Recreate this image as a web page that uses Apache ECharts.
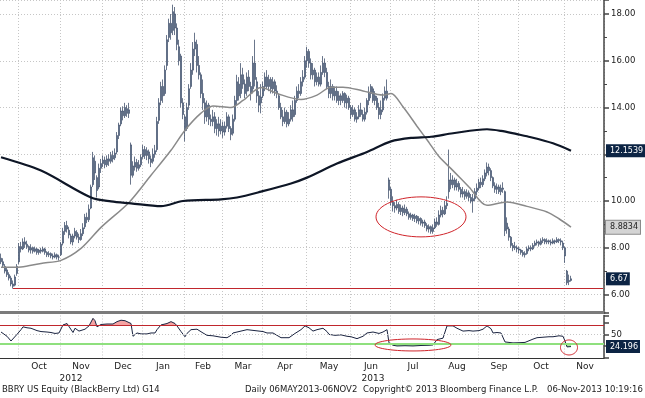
<!DOCTYPE html>
<html>
<head>
<meta charset="utf-8">
<script src="https://cdn.jsdelivr.net/npm/echarts@6.0.0/dist/echarts.min.js"></script>
<style>
html, body { margin: 0; padding: 0; background: #fff; }
#chart { width: 645px; height: 398px; }
</style>
</head>
<body>
<div id="chart"></div>
<script>
// trading calendar (NYSE), Sep 18 2012 .. Nov 29 2013
const firstDay = '2012-09-18'
const lastDay = '2013-11-29'
const holidays = ['2012-10-29', '2012-10-30', '2012-11-22', '2012-12-25', '2013-01-01', '2013-01-21',
  '2013-02-18', '2013-03-29', '2013-05-27', '2013-07-04', '2013-09-02', '2013-11-28']
const monthNames = ['Jan', 'Feb', 'Mar', 'Apr', 'May', 'Jun', 'Jul', 'Aug', 'Sep', 'Oct', 'Nov', 'Dec']

// daily bars [open, close, low, high]
const sep12 = [[7.55,7.40,7.30,7.75],[7.40,7.25,7.15,7.55],[7.20,7.00,6.90,7.30],[7.05,6.85,6.75,7.15],[6.85,6.70,6.60,6.95],
  [6.70,6.45,6.35,6.80],[6.45,6.35,6.25,6.60],[6.40,6.75,6.35,6.85],[6.90,7.20,6.80,7.30]]
const oct12 = [[7.40,8.05,7.30,8.20],[8.05,7.95,7.80,8.25],[7.95,8.25,7.90,8.40],[8.25,8.15,8.00,8.45],[8.15,8.05,7.95,8.30],
  [8.05,7.90,7.80,8.10],[7.90,8.00,7.75,8.15],[8.00,7.85,7.75,8.05],[7.85,7.95,7.80,8.05],[7.95,7.80,7.70,8.00],
  [7.80,7.90,7.70,7.95],[7.90,7.85,7.75,8.00],[7.85,7.95,7.80,8.05],[7.95,7.80,7.70,8.00],[7.80,7.70,7.60,7.85],
  [7.70,7.75,7.60,7.85],[7.75,7.65,7.55,7.80],[7.65,7.60,7.50,7.75],[7.60,7.70,7.55,7.80],[7.70,7.60,7.50,7.75],
  [7.60,7.60,7.45,7.70]]
const nov12 = [[7.70,8.15,7.65,8.25],[8.20,8.70,8.10,8.85],[8.70,8.95,8.55,9.10],[8.95,8.80,8.65,9.15],[8.75,8.55,8.40,8.90],
  [8.50,8.25,8.15,8.60],[8.25,8.50,8.10,8.60],[8.50,8.70,8.40,8.85],[8.65,8.45,8.35,8.75],[8.45,8.35,8.20,8.60],
  [8.35,8.60,8.30,8.80],[8.60,8.85,8.50,9.05],[8.90,9.30,8.80,9.45],[9.30,9.20,9.05,9.50],[9.20,9.65,9.10,9.85],
  [9.70,10.60,9.65,10.70],[10.70,11.85,10.60,12.10],[11.70,11.20,10.90,11.95],[11.00,10.45,10.15,11.10],[10.60,11.40,10.50,11.60],
  [11.40,11.60,11.20,11.80]]
const dec12 = [[11.60,11.75,11.45,11.95],[11.75,11.55,11.40,11.90],[11.55,11.80,11.45,11.95],[11.80,11.70,11.50,12.00],[11.70,11.95,11.60,12.10],
  [11.95,11.80,11.65,12.15],[11.85,12.05,11.75,12.25],[12.10,12.80,12.00,12.95],[12.80,13.25,12.65,13.35],[13.30,13.85,13.20,14.00],
  [13.85,13.65,13.45,14.05],[13.65,14.00,13.55,14.20],[13.95,13.75,13.60,14.10],[13.75,13.90,13.55,14.20],[12.40,11.10,10.70,12.50],
  [11.10,11.50,11.00,11.70],[11.45,11.65,11.30,11.90],[11.65,11.40,11.25,11.80],[11.40,11.55,11.30,11.75],[11.55,11.87,11.45,12.00]]
const jan13 = [[11.90,12.20,11.80,12.40],[12.20,11.95,11.80,12.35],[11.95,12.15,11.75,12.30],[12.10,11.80,11.60,12.20],[11.80,11.65,11.45,11.95],
  [11.70,12.00,11.60,12.25],[12.00,12.15,11.85,12.40],[12.20,13.40,12.10,13.60],[13.45,14.20,13.30,14.40],[14.30,14.90,14.10,15.10],
  [14.90,14.50,14.20,15.20],[14.60,15.60,14.50,15.80],[15.80,16.90,15.60,17.10],[17.00,17.60,16.80,17.80],[17.60,17.20,16.90,18.00],
  [17.30,18.10,17.10,18.40],[18.00,17.40,17.10,18.30],[17.40,16.70,16.45,17.60],[16.60,16.00,15.80,16.90],[16.20,14.20,14.00,16.30],
  [14.20,13.70,13.50,14.40]]
const feb13 = [[13.60,13.00,12.55,13.70],[13.10,14.00,13.00,14.20],[14.10,14.80,13.90,15.00],[14.90,15.60,14.80,15.90],[15.60,16.50,15.40,16.80],
  [16.50,16.80,16.20,17.20],[16.70,15.80,15.50,16.90],[15.80,15.40,15.20,16.20],[15.40,14.60,14.40,15.50],[14.60,14.20,13.90,15.20],
  [14.20,13.60,13.30,14.40],[13.60,14.10,13.40,14.30],[14.10,13.50,13.25,14.20],[13.50,13.40,13.20,13.70],[13.40,13.60,13.20,13.90],
  [13.60,13.10,12.90,13.80],[13.10,13.30,12.80,13.50],[13.30,13.00,12.75,13.60],[13.00,13.20,12.85,13.50]]
const mar13 = [[13.20,12.95,12.70,13.40],[12.95,13.20,12.80,13.40],[13.20,13.60,13.10,13.80],[13.60,13.10,12.95,13.70],[13.10,12.85,12.60,13.20],
  [12.90,13.50,12.80,13.70],[13.50,14.30,13.40,14.50],[14.30,15.10,14.10,15.40],[15.00,14.50,14.30,15.30],[14.60,15.40,14.40,15.90],
  [15.40,15.00,14.80,15.70],[15.00,14.60,14.40,15.20],[14.70,15.30,14.50,15.50],[15.30,14.90,14.70,15.60],[14.90,14.60,14.30,15.10],
  [14.80,15.90,14.60,16.20],[15.90,15.20,14.90,16.90],[15.10,14.50,14.20,15.30],[14.50,14.10,13.80,14.70],[14.20,14.45,13.75,15.00]]
const apr13 = [[14.50,14.90,14.40,15.10],[14.90,15.30,14.70,15.50],[15.30,14.90,14.80,15.60],[14.90,15.20,14.70,15.40],[15.20,14.80,14.60,15.30],
  [14.80,15.10,14.60,15.30],[15.10,14.70,14.50,15.20],[14.70,14.60,14.40,14.95],[14.50,14.00,13.90,14.60],[14.00,13.60,13.50,14.20],
  [13.60,13.40,13.20,13.90],[13.40,13.80,13.30,14.00],[13.80,13.30,13.15,13.90],[13.30,13.50,13.20,13.80],[13.50,13.90,13.40,14.10],
  [13.90,13.60,13.40,14.30],[13.70,14.30,13.60,14.50],[14.30,14.70,14.20,14.90],[14.70,14.60,14.40,15.00],[14.60,15.10,14.50,15.30],
  [15.10,15.30,14.90,15.60],[15.30,16.00,15.20,16.20]]
const may13 = [[16.00,16.40,15.70,16.60],[16.40,15.90,15.70,16.50],[15.90,15.40,15.20,16.10],[15.40,15.60,15.20,15.90],[15.60,15.10,14.90,15.70],
  [15.10,15.30,14.95,15.50],[15.30,15.00,14.90,15.50],[15.00,15.50,14.90,15.80],[15.50,15.90,15.40,16.20],[15.90,15.50,15.30,16.10],
  [15.50,14.90,14.80,15.70],[14.90,14.60,14.40,15.10],[14.60,14.90,14.40,15.20],[14.90,14.50,14.30,15.00],[14.50,14.70,14.30,14.90],
  [14.70,14.30,14.20,14.90],[14.30,14.50,14.10,14.70],[14.50,14.30,14.10,14.60],[14.30,14.60,14.20,14.70],[14.60,14.20,14.00,14.65],
  [14.20,14.40,13.95,14.55],[14.40,14.00,13.90,14.50]]
const jun13 = [[14.00,13.70,13.50,14.10],[13.70,13.90,13.60,14.10],[13.90,13.50,13.40,14.00],[13.50,13.60,13.35,13.80],[13.60,13.90,13.50,14.10],
  [13.90,13.70,13.60,14.20],[13.70,13.50,13.40,13.90],[13.50,13.80,13.40,14.00],[13.80,14.30,13.70,14.40],[14.30,14.60,14.10,14.90],
  [14.60,14.90,14.40,15.00],[14.80,14.30,14.20,14.90],[14.30,14.50,14.10,14.70],[14.40,14.00,13.90,14.50],[14.00,13.70,13.50,14.20],
  [13.70,13.90,13.50,14.30],[13.90,14.40,13.80,14.60],[14.40,14.70,14.30,14.90],[14.70,14.40,14.30,15.20],[10.90,10.46,10.10,11.00]]
const jul13 = [[10.50,9.95,9.80,10.60],[9.95,9.80,9.55,10.20],[9.80,9.70,9.50,9.95],[9.70,9.85,9.60,10.05],[9.85,9.55,9.45,9.95],
  [9.55,9.70,9.40,9.85],[9.70,9.50,9.35,9.80],[9.50,9.65,9.40,9.85],[9.65,9.45,9.35,9.75],[9.45,9.30,9.20,9.55],
  [9.30,9.40,9.20,9.50],[9.40,9.25,9.15,9.45],[9.25,9.35,9.10,9.45],[9.35,9.15,9.05,9.40],[9.15,9.25,9.00,9.35],
  [9.25,9.05,8.95,9.30],[9.05,9.10,8.90,9.20],[9.10,8.95,8.85,9.20],[8.95,8.80,8.70,9.05],[8.80,8.90,8.65,9.00],
  [8.90,8.70,8.60,8.95],[8.70,8.85,8.60,9.00]]
const aug13 = [[8.85,9.10,8.80,9.25],[9.10,9.00,8.90,9.30],[9.00,9.40,8.95,9.60],[9.40,9.60,9.30,9.80],[9.60,9.45,9.30,9.75],
  [9.45,9.80,9.40,10.00],[9.80,9.90,9.65,10.20],[10.40,10.90,10.10,12.20],[10.90,10.70,10.50,11.20],[10.70,10.90,10.55,11.10],
  [10.90,10.60,10.45,11.00],[10.60,10.75,10.45,10.95],[10.75,10.50,10.40,10.85],[10.50,10.30,10.15,10.60],[10.30,10.40,10.15,10.60],
  [10.40,10.20,10.05,10.50],[10.20,10.35,10.10,10.50],[10.35,10.15,10.00,10.45],[10.15,10.00,9.90,10.30],[10.00,10.10,9.50,10.30],
  [10.10,10.40,10.00,10.55],[10.40,10.55,10.25,10.75]]
const sep13 = [[10.55,10.80,10.45,10.95],[10.80,10.70,10.55,11.00],[10.70,10.95,10.60,11.10],[10.95,11.20,10.85,11.35],[11.20,11.45,11.05,11.65],
  [11.45,11.30,11.10,11.60],[11.30,11.00,10.85,11.40],[11.00,10.65,10.55,11.05],[10.65,10.50,10.35,10.80],[10.50,10.60,10.30,10.75],
  [10.60,10.40,10.30,10.70],[10.40,10.55,10.25,10.70],[10.55,10.50,10.35,10.80],[10.40,8.73,8.50,10.45],[9.05,8.80,8.60,9.30],
  [8.80,8.45,8.30,8.90],[8.45,8.10,8.00,8.50],[8.10,8.00,7.85,8.20],[8.00,8.05,7.90,8.25],[8.00,7.95,7.80,8.10]]
const oct13 = [[7.95,7.90,7.75,8.05],[7.90,7.80,7.70,7.95],[7.80,7.70,7.62,7.90],[7.70,7.75,7.58,7.85],[7.75,7.95,7.70,8.05],
  [7.95,8.00,7.85,8.10],[8.00,7.95,7.85,8.10],[7.95,8.10,7.90,8.20],[8.10,8.20,8.05,8.30],[8.20,8.25,8.10,8.35],
  [8.25,8.15,8.05,8.30],[8.15,8.30,8.10,8.40],[8.30,8.35,8.20,8.45],[8.35,8.25,8.15,8.40],[8.25,8.30,8.15,8.40],
  [8.30,8.25,8.15,8.35],[8.25,8.20,8.10,8.35],[8.20,8.30,8.15,8.40],[8.30,8.25,8.15,8.35],[8.25,8.35,8.20,8.45],
  [8.35,8.30,8.20,8.40],[8.30,8.25,8.10,8.40],[8.20,8.00,7.90,8.30]]
const nov13 = [[8.00,7.65,7.35,8.05],[7.00,6.50,6.40,7.05],[6.55,6.60,6.40,6.85],[6.60,6.67,6.55,6.80]]

// moving averages: [day index, value]
const ma50 = [[0,7.16],[10,7.18],[20,7.33],[30,7.46],[40,7.97],[50,8.87],[64,9.94],[75,11.1],[85,12.17],[92,13.03],
  [100,13.76],[106,14.06],[115,14.0],[121,14.3],[130,14.86],[138,14.6],[150,14.34],[158,14.53],[165,14.87],[171,14.87],
  [181,14.71],[191,14.53],[195,14.6],[201,14.03],[208,13.2],[214,12.5],[219,11.9],[226,11.3],[234,10.6],[243,9.82],
  [253,9.96],[263,9.77],[273,9.53],[279,9.24],[285,8.8834]]
const ma200 = [[0,11.87],[20,11.3],[45,10.15],[55,9.98],[65,9.9],[80,9.78],[91,10.0],[110,10.07],[118,10.15],[130,10.4],
  [145,10.75],[153,11.0],[168,11.6],[183,12.1],[195,12.55],[205,12.7],[215,12.75],[226,12.9],[243,13.07],[250,13.0],
  [258,12.86],[263,12.77],[276,12.47],[285,12.1539]]

// RSI(14): [day index, value]
const rsi = [[0,55],[3,46],[5,36],[8,50],[10,60],[11,66],[13,64],[15,63],[18,58],[20,56],[23,55],[25,54],[27,52],[29,53],
  [30,54],[31,70],[33,73],[34,72],[36,54],[37,63],[39,57],[40,56],[42,61],[44,68],[46,84],[47,79],[48,66],[49,70],[50,71],
  [53,72],[56,72],[58,77],[60,80],[62,79],[63,77],[65,73],[66,46],[68,53],[70,51],[73,51],[75,53],[77,53],[78,60],[80,70],
  [83,73],[85,77],[87,73],[88,68],[90,56],[92,45],[93,52],[95,60],[98,61],[101,53],[103,48],[106,47],[110,44],[113,43],
  [115,48],[116,53],[119,56],[123,60],[127,58],[131,56],[133,53],[136,53],[138,48],[140,43],[144,43],[147,52],[150,60],
  [152,68],[154,64],[156,57],[158,60],[161,63],[163,56],[164,50],[167,48],[170,49],[173,46],[175,45],[178,41],[181,46],
  [183,53],[186,55],[189,52],[191,55],[193,60],[194,32],[196,27],[198,25.5],[202,26],[206,25.5],[210,26.5],[214,27],
  [216,27.6],[218,39],[221,42],[223,68],[224,69],[226,68],[228,63],[231,57],[234,58],[236,57],[239,58],[241,61],[243,68],
  [245,62],[246,53],[248,54],[250,53],[252,34],[254,33],[256,32],[259,32.4],[262,33],[263,36],[266,40],[268,43],[271,44],
  [274,45],[276,45],[279,47],[281,46],[282,36],[283,23.5],[284,26],[285,24.196]]

const supportLevel = 6.26
const lastPrice = 6.67
const lastMa50 = 8.8834
const lastMa200 = 12.1539
const lastRsi = 24.196

const footer = [
  ['BBRY US Equity (BlackBerry Ltd) G14', 2],
  ['Daily 06MAY2013-06NOV2', 245],
  ['Copyright\u00a9 2013 Bloomberg Finance L.P.', 363],
  ['06-Nov-2013 10:19:16', 547]
]

const buildDays = () => {
  const out = []
  const d = new Date(firstDay + 'T00:00:00Z')
  const end = new Date(lastDay + 'T00:00:00Z')
  while (d <= end) {
    const s = d.toISOString().slice(0, 10)
    const wd = d.getUTCDay()
    if (wd !== 0 && wd !== 6 && !holidays.includes(s)) out.push(s)
    d.setUTCDate(d.getUTCDate() + 1)
  }
  return out
}
const days = buildDays()
const ohlc = [...sep12, ...oct12, ...nov12, ...dec12, ...jan13, ...feb13, ...mar13, ...apr13,
  ...may13, ...jun13, ...jul13, ...aug13, ...sep13, ...oct13, ...nov13]

const monthStarts = []
days.forEach((d, i) => { if (i > 0 && d.slice(0, 7) !== days[i - 1].slice(0, 7)) monthStarts.push(i) })
const monthStartSet = new Set(monthStarts)
const monthMidSet = new Set(monthStarts.map((s, k) => Math.floor((s + (monthStarts[k + 1] || days.length)) / 2)))
const yearStart = days.findIndex(d => d.startsWith('2013'))
const yearMidSet = new Set([Math.floor(yearStart / 2), Math.floor((yearStart + days.length) / 2)])

const pairs = pts => pts.map(([i, v]) => [days[i], v])

const FONT = 'DejaVu Sans'
const INK = '#1a1a1a'
const NAVY = '#0c2444'
const GRIDLINE = { color: '#c6c6c6', width: 1, type: [1, 2] }
const NOLINE = { width: 0, color: 'rgba(0,0,0,0)' }
const badge = (text, bg, fg, border) => ({
  show: true, position: 'end', distance: 2, formatter: text,
  backgroundColor: bg, color: fg, borderColor: border || bg, borderWidth: border ? 1 : 0,
  padding: [3, 2, 2, 4], fontSize: 8, fontFamily: FONT
})

const chart = echarts.init(document.getElementById('chart'))
chart.setOption({
  animation: false,
  backgroundColor: '#fff',
  textStyle: { fontFamily: FONT },
  title: footer.map(([text, left]) => ({
    text, left, top: 385, padding: 0,
    textStyle: { fontSize: 8.5, fontWeight: 'normal', color: INK, fontFamily: FONT }
  })),
  grid: [
    { left: 0, width: 604, top: 0, height: 312.5 },
    { left: 0, width: 604, top: 315.5, height: 42.5 }
  ],
  xAxis: [
    {
      type: 'category', gridIndex: 0, data: days,
      axisLine: { lineStyle: { color: '#7b7b7b', width: 3 } },
      axisTick: { show: false }, axisLabel: { show: false },
      splitLine: { show: true, interval: i => monthStartSet.has(i), lineStyle: GRIDLINE }
    },
    {
      type: 'category', gridIndex: 1, data: days,
      axisLine: { lineStyle: { color: '#333', width: 1.2 } },
      axisTick: { interval: i => monthStartSet.has(i), length: 4, lineStyle: { color: '#333' } },
      axisLabel: {
        interval: i => monthMidSet.has(i), formatter: v => monthNames[+v.slice(5, 7) - 1],
        color: INK, fontSize: 9, margin: 4, fontFamily: FONT
      },
      splitLine: { show: true, interval: i => monthStartSet.has(i), lineStyle: GRIDLINE }
    },
    {
      type: 'category', gridIndex: 1, data: days, position: 'bottom', offset: 16,
      axisLine: { show: false },
      axisTick: { interval: i => i === yearStart, length: 10, lineStyle: { color: '#555' } },
      axisLabel: {
        interval: i => yearMidSet.has(i), formatter: v => v.slice(0, 4),
        color: INK, fontSize: 9, margin: 0, fontFamily: FONT
      }
    }
  ],
  yAxis: [
    {
      type: 'value', gridIndex: 0, position: 'right', min: 5.229, max: 18.6,
      splitNumber: 7, minInterval: 2, maxInterval: 2,
      axisLine: { show: true, lineStyle: { color: '#444', width: 1.5 } },
      axisTick: { show: true, length: 5, lineStyle: { color: '#444', width: 1.5 } },
      minorTick: { show: true, splitNumber: 2, length: 3, lineStyle: { color: '#444' } },
      axisLabel: {
        formatter: v => Math.abs(v - Math.round(v / 2) * 2) < 1e-6 ? v.toFixed(2) : '',
        color: INK, fontSize: 8.5, margin: 7, fontFamily: FONT
      },
      splitLine: { lineStyle: GRIDLINE }
    },
    {
      type: 'value', gridIndex: 1, position: 'right', min: 0, max: 90, interval: 25,
      axisLine: { show: true, lineStyle: { color: '#444', width: 1.5 } },
      axisTick: { show: true, length: 5, lineStyle: { color: '#444', width: 1.5 } },
      axisLabel: { formatter: v => v === 50 ? '50' : '', color: INK, fontSize: 8.5, margin: 7, fontFamily: FONT },
      splitLine: { show: false }
    }
  ],
  visualMap: {
    type: 'piecewise', show: false, seriesIndex: 3, dimension: 1,
    pieces: [
      { gt: 70, color: '#f5a3a3' },
      { gte: 30, lte: 70, color: 'rgba(255,255,255,0)' },
      { lt: 30, color: '#a6e89a' }
    ]
  },
  series: [
    {
      name: 'BBRY', type: 'candlestick', xAxisIndex: 0, yAxisIndex: 0, data: ohlc, barWidth: 2.2,
      itemStyle: { color: '#c3cedd', color0: '#c3cedd', borderColor: '#2b3c5a', borderColor0: '#2b3c5a', borderWidth: 0.7 },
      markLine: {
        silent: true, symbol: 'none',
        label: { show: false },
        lineStyle: { color: '#c0272d', width: 1, type: 'solid' },
        data: [
          [{ coord: [days[6], supportLevel] }, { coord: [days[days.length - 1], supportLevel] }],
          { yAxis: lastPrice, lineStyle: NOLINE, label: badge('6.67', NAVY, '#fff') }
        ]
      }
    },
    {
      name: 'MA50', type: 'line', xAxisIndex: 0, yAxisIndex: 0, data: pairs(ma50), smooth: 0.3,
      showSymbol: false, z: 4, lineStyle: { color: '#8a8a8a', width: 1.5 },
      markLine: {
        silent: true, symbol: 'none',
        data: [{ yAxis: lastMa50, lineStyle: NOLINE, label: badge('8.8834', '#d4d4d4', '#222', '#8a8a8a') }]
      }
    },
    {
      name: 'MA200', type: 'line', xAxisIndex: 0, yAxisIndex: 0, data: pairs(ma200), smooth: 0.3,
      showSymbol: false, z: 4, lineStyle: { color: '#0e1626', width: 2.2 },
      markLine: {
        silent: true, symbol: 'none',
        data: [{ yAxis: lastMa200, lineStyle: NOLINE, label: badge('12.1539', NAVY, '#fff') }]
      }
    },
    {
      name: 'RSI fill', type: 'line', xAxisIndex: 1, yAxisIndex: 1, data: pairs(rsi),
      showSymbol: false, lineStyle: { width: 0 }, areaStyle: { origin: 70, opacity: 1 }, z: 1
    },
    {
      name: 'RSI', type: 'line', xAxisIndex: 1, yAxisIndex: 1, data: pairs(rsi),
      showSymbol: false, z: 4, lineStyle: { color: '#1a2340', width: 1 },
      markLine: {
        silent: true, symbol: 'none', label: { show: false },
        data: [
          { yAxis: 70, lineStyle: { color: '#c0272d', width: 1, type: 'solid' } },
          { yAxis: 30, lineStyle: { color: '#8fe07e', width: 2, type: 'solid' } },
          { yAxis: 50, lineStyle: GRIDLINE },
          { yAxis: lastRsi, lineStyle: NOLINE, label: badge('24.196', NAVY, '#fff') }
        ]
      }
    }
  ]
})

// red hand-drawn style annotations, anchored to data coordinates
const notes = [
  { axes: { xAxisIndex: 0, yAxisIndex: 0 }, at: [210, 9.32], rx: 45, ry: 20 },
  { axes: { xAxisIndex: 1, yAxisIndex: 1 }, at: [206, 27.6], rx: 38, ry: 6 },
  { axes: { xAxisIndex: 1, yAxisIndex: 1 }, at: [284, 22.3], rx: 8.5, ry: 7.5 }
]
const ring = (cx, cy, rx, ry) => {
  const pts = []
  for (let k = 0; k < 60; k++) {
    const t = (k / 60) * Math.PI * 2
    pts.push([cx + rx * Math.cos(t), cy + ry * Math.sin(t)])
  }
  return pts
}
chart.setOption({
  graphic: notes.map(n => {
    const [cx, cy] = chart.convertToPixel(n.axes, [days[n.at[0]], n.at[1]])
    return {
      type: 'polygon', silent: true, z: 100,
      shape: { points: ring(cx, cy, n.rx, n.ry) },
      style: { fill: 'none', stroke: '#d0242a', lineWidth: 1 }
    }
  })
})
</script>
</body>
</html>
